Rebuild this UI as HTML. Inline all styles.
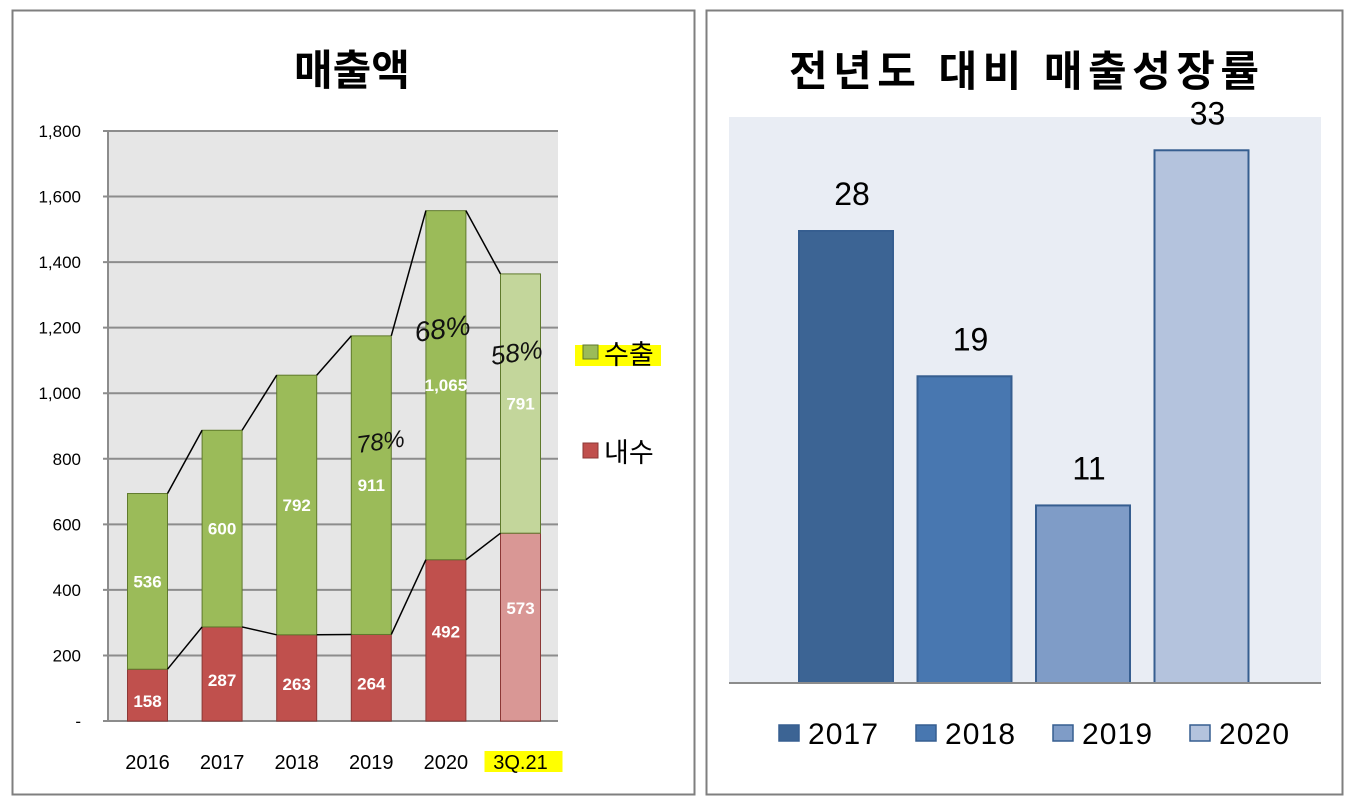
<!DOCTYPE html>
<html><head><meta charset="utf-8"><style>
body{margin:0;background:#fff;width:1352px;height:806px;overflow:hidden;font-family:"Liberation Sans","Noto Sans CJK KR",sans-serif}
svg text{font-family:"Liberation Sans","Noto Sans CJK KR",sans-serif}
</style></head><body>
<svg width="1352" height="806" xmlns="http://www.w3.org/2000/svg">
<rect x="12.5" y="10.5" width="682" height="784" fill="#fff" stroke="#7f7f7f" stroke-width="2"/>
<rect x="706.5" y="10.5" width="636" height="784" fill="#fff" stroke="#7f7f7f" stroke-width="2"/>
<text x="352" y="85" text-anchor="middle" font-size="42" font-weight="bold">매출액</text>
<text x="1024" y="86" text-anchor="middle" font-size="42" font-weight="bold" textLength="470" lengthAdjust="spacing">전년도 대비 매출성장률</text>
<rect x="108" y="131" width="450" height="590" fill="#e6e6e6"/>
<g id="left"></g>
<g id="right"></g>
<rect x="575" y="345" width="86" height="21" fill="#ffff00"/>
<rect x="583" y="345" width="15" height="14" fill="#9bbb59" stroke="#5f7a2c"/>
<text x="604" y="364" font-size="27">수출</text>
<rect x="583" y="443" width="15" height="15" fill="#c0504d" stroke="#8c3836"/>
<text x="604" y="462" font-size="27">내수</text>
<text x="358" y="453" font-size="24" font-style="italic" fill="#111" transform="rotate(-8 358 453)">78%</text>
<text x="416" y="342" font-size="28" font-style="italic" fill="#111" transform="rotate(-8 416 342)">68%</text>
<text x="492" y="365" font-size="26" font-style="italic" fill="#111" transform="rotate(-8 492 365)">58%</text>
</svg>
<script>
const categories=["2016","2017","2018","2019","2020","3Q.21"];
const domestic=[158,287,263,264,492,573];
const exportVals=[536,600,792,911,1065,791];
const yTicks=[0,200,400,600,800,1000,1200,1400,1600,1800];
const growthYears=["2017","2018","2019","2020"];
const growthVals=[28,19,11,33];
const NS="http://www.w3.org/2000/svg";
function mk(tag,attrs,parent,txt){const e=document.createElementNS(NS,tag);for(const k in attrs)e.setAttribute(k,attrs[k]);if(txt!==undefined)e.textContent=txt;parent.appendChild(e);return e;}
const L=document.getElementById('left');
const y=v=>721-v*590/1800;
const cx=i=>147.5+74.6*i;
yTicks.forEach(t=>{
  const g=mk('line',{x1:103,x2:558,y1:y(t),y2:y(t),stroke:'#8c8c8c','stroke-width':2},L);
  
  const tx=mk('text',{x:81,y:y(t)+6,'text-anchor':'end','font-size':17},L,t===0?'-':t.toLocaleString('en-US'));
  
});
const ax=mk('line',{x1:108,x2:108,y1:131,y2:721,stroke:'#8c8c8c','stroke-width':2},L);

const half=20;
categories.forEach((c,i)=>{
  const last=i===categories.length-1;
  const d=domestic[i],e=exportVals[i];
  const r1=mk('rect',{x:cx(i)-half,y:y(d),width:half*2,height:y(0)-y(d),fill:last?'#d99795':'#c0504d',stroke:'#8c3836','stroke-width':1},L);
  
  const r2=mk('rect',{x:cx(i)-half,y:y(d+e),width:half*2,height:y(d)-y(d+e),fill:last?'#c3d69b':'#9bbb59',stroke:'#5f7a2c','stroke-width':1},L);
  
  const t1=mk('text',{x:cx(i),y:(y(0)+y(d))/2+(d<300?12:-3)+(i===5?-10:0),'text-anchor':'middle','font-size':17,'font-weight':'bold',fill:'#fff'},L,d.toLocaleString('en-US'));
  
  const t2=mk('text',{x:cx(i),y:(y(d)+y(d+e))/2+6,'text-anchor':'middle','font-size':17,'font-weight':'bold',fill:'#fff'},L,e.toLocaleString('en-US'));
  
  const xl=mk('text',{x:cx(i),y:769,'text-anchor':'middle','font-size':20},L,c);
  
  if(last){const hl=mk('rect',{x:cx(i)-36,y:751,width:78,height:21,fill:'#ffff00'},L);L.appendChild(xl);}
  if(i>0){
    const a=mk('line',{x1:cx(i-1)+half,y1:y(domestic[i-1]+exportVals[i-1]),x2:cx(i)-half,y2:y(d+e),stroke:'#000','stroke-width':1.5},L);
    
    const b=mk('line',{x1:cx(i-1)+half,y1:y(domestic[i-1]),x2:cx(i)-half,y2:y(d),stroke:'#000','stroke-width':1.5},L);
    
  }
});
const R=document.getElementById('right');
const bg=mk('rect',{x:729,y:117,width:592,height:566,fill:'#e9edf4'},R);

const gy=v=>683-v*452/28;
const gcx=i=>846+118.5*i;
const cols=['#3c6494','#4877b0','#7f9cc7','#b4c3dd'];
growthVals.forEach((v,i)=>{
  const r=mk('rect',{x:gcx(i)-47,y:gy(v),width:94,height:683-gy(v),fill:cols[i],stroke:'#365e90','stroke-width':2},R);
  
  const t=mk('text',{x:gcx(i)+6,y:gy(v)-26,'text-anchor':'middle','font-size':32},R,v);
  
  const sw=mk('rect',{x:779+137*i,y:725,width:20,height:16,fill:cols[i],stroke:'#365e90','stroke-width':1.5},R);
  
  const lt=mk('text',{x:808+137*i,y:744,'font-size':30,textLength:70},R,growthYears[i]);
  
});
const base=mk('line',{x1:729,x2:1321,y1:683,y2:683,stroke:'#8c8c8c','stroke-width':2},R);

</script>
</body></html>
